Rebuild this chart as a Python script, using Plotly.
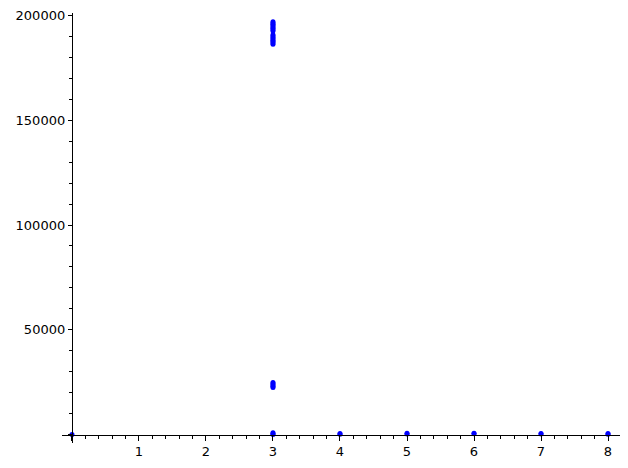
import plotly.graph_objects as go

# data
x_zero = [0]
y_zero = [0]
x3_upper = [3] * 16
y3_upper = [186300, 187000, 187600, 188200, 188900, 189500, 190200, 190800,
            192600, 193200, 193900, 194500, 195200, 195800, 196400, 197000]
x3_lower = [3] * 5
y3_lower = [22400, 23000, 23600, 24200, 24800]
x3_base = [3, 3, 3]
y3_base = [0, 300, 800]
x_tail = [4, 4, 5, 5, 6, 6, 7, 7, 8, 8]
y_tail = [150, 500, 200, 550, 300, 600, 250, 500, 150, 450]

xs = x_zero + x3_upper + x3_lower + x3_base + x_tail
ys = y_zero + y3_upper + y3_lower + y3_base + y_tail

x_ticks = [0, 1, 2, 3, 4, 5, 6, 7, 8]
x_labels = ["", "1", "2", "3", "4", "5", "6", "7", "8"]
y_ticks = [0, 50000, 100000, 150000, 200000]
y_labels = ["", "50000", "100000", "150000", "200000"]

xmin, xmax = -0.149, 8.179
ymin, ymax = -4057, 201193

fig = go.Figure()
fig.add_trace(go.Scatter(
    x=xs, y=ys, mode="markers",
    marker=dict(color="#0000ff", size=5, line=dict(width=0)),
    cliponaxis=False, showlegend=False, hoverinfo="skip",
))

font = dict(family="DejaVu Sans", size=13, color="black")
fig.update_layout(
    width=628, height=468,
    margin=dict(l=62, r=8, t=13, b=25),
    paper_bgcolor="white", plot_bgcolor="white",
    font=font,
    xaxis=dict(
        range=[xmin, xmax], anchor="free",
        position=(0 - ymin) / (ymax - ymin),
        showgrid=False, zeroline=False,
        showline=True, linecolor="black", linewidth=1.3,
        tickmode="array", tickvals=x_ticks, ticktext=x_labels,
        ticks="outside", ticklen=5, tickwidth=1, tickcolor="black",
        tickfont=font,
        minor=dict(dtick=0.2, ticks="outside", ticklen=3, tickwidth=0.8,
                   tickcolor="black", showgrid=False),
    ),
    yaxis=dict(
        range=[ymin, ymax], anchor="free",
        position=(0 - xmin) / (xmax - xmin),
        showgrid=False, zeroline=False,
        showline=True, linecolor="black", linewidth=1.3,
        tickmode="array", tickvals=y_ticks, ticktext=y_labels,
        ticks="outside", ticklen=4, tickwidth=1, tickcolor="black",
        tickfont=font,
        minor=dict(dtick=10000, ticks="outside", ticklen=2.5, tickwidth=0.8,
                   tickcolor="black", showgrid=False),
    ),
)

fig.write_html(
    "out.html",
    config={"displayModeBar": False},
    post_script="document.body.style.margin='0';document.body.style.overflow='hidden';",
)
